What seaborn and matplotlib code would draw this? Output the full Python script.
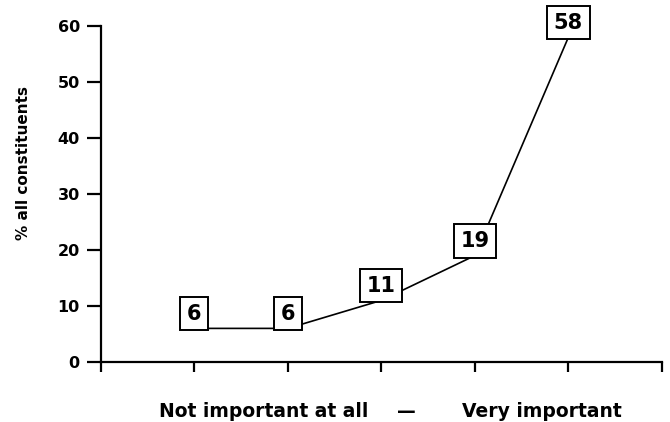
import matplotlib
matplotlib.use("Agg")
import matplotlib.pyplot as plt
import seaborn as sns
import pandas as pd

# Importance rating (1 = not important at all, 5 = very important)
ratings = [1, 2, 3, 4, 5]
percent = [6, 6, 11, 19, 58]
y_ticks = [0, 10, 20, 30, 40, 50, 60]
x_ticks = [0, 1, 2, 3, 4, 5, 6]

df = pd.DataFrame({"rating": ratings, "percent": percent})

sns.set_style("white")
plt.rcParams["font.family"] = ["DejaVu Sans"]
plt.rcParams["font.weight"] = "bold"
plt.rcParams["text.color"] = "black"
plt.rcParams["axes.labelcolor"] = "black"
plt.rcParams["xtick.color"] = "black"
plt.rcParams["ytick.color"] = "black"

fig = plt.figure(figsize=(6.70, 4.22), dpi=100)
ax = fig.add_axes([0.1503, 0.1422, 0.988 - 0.1503, 0.9384 - 0.1422])

sns.lineplot(data=df, x="rating", y="percent", ax=ax, color="black",
             linewidth=1.2, marker=None)

for r, p in zip(ratings, percent):
    ax.annotate(str(p), (r, p), xytext=(0, 10.5), textcoords="offset points",
                ha="center", va="center", fontsize=15, fontweight="heavy",
                color="black",
                bbox=dict(boxstyle="square,pad=0.32", fc="white", ec="black", lw=1.4),
                zorder=5)

ax.set_xlim(0, 6)
ax.set_ylim(0, 60)
ax.set_xticks(x_ticks)
ax.set_xticklabels([])
ax.set_yticks(y_ticks)
ax.set_yticklabels([str(t) for t in y_ticks], fontsize=11.5, fontweight="bold",
                   color="black")
ax.set_xlabel("")
ax.set_ylabel("")

for side in ["top", "right"]:
    ax.spines[side].set_visible(False)
for side in ["left", "bottom"]:
    ax.spines[side].set_color("black")
    ax.spines[side].set_linewidth(1.6)

ax.tick_params(axis="y", direction="out", length=10, width=1.6, pad=5,
               colors="black", left=True)
ax.tick_params(axis="x", direction="out", length=7.5, width=1.6,
               colors="black", bottom=True)

fig.text(0.035, 0.614, "% all constituents", rotation=90, ha="center",
         va="center", fontsize=11, fontweight="bold", color="black")

fig.text(368 / 670, 0.026, "Not important at all", ha="right", va="center",
         fontsize=13.5, fontweight="bold", color="black")
fig.text(406 / 670, 0.026, "\u2014", ha="center", va="center",
         fontsize=13.5, fontweight="bold", color="black")
fig.text(462 / 670, 0.026, "Very important", ha="left", va="center",
         fontsize=13.5, fontweight="bold", color="black")

fig.savefig("out.png", dpi=100, facecolor="white")
